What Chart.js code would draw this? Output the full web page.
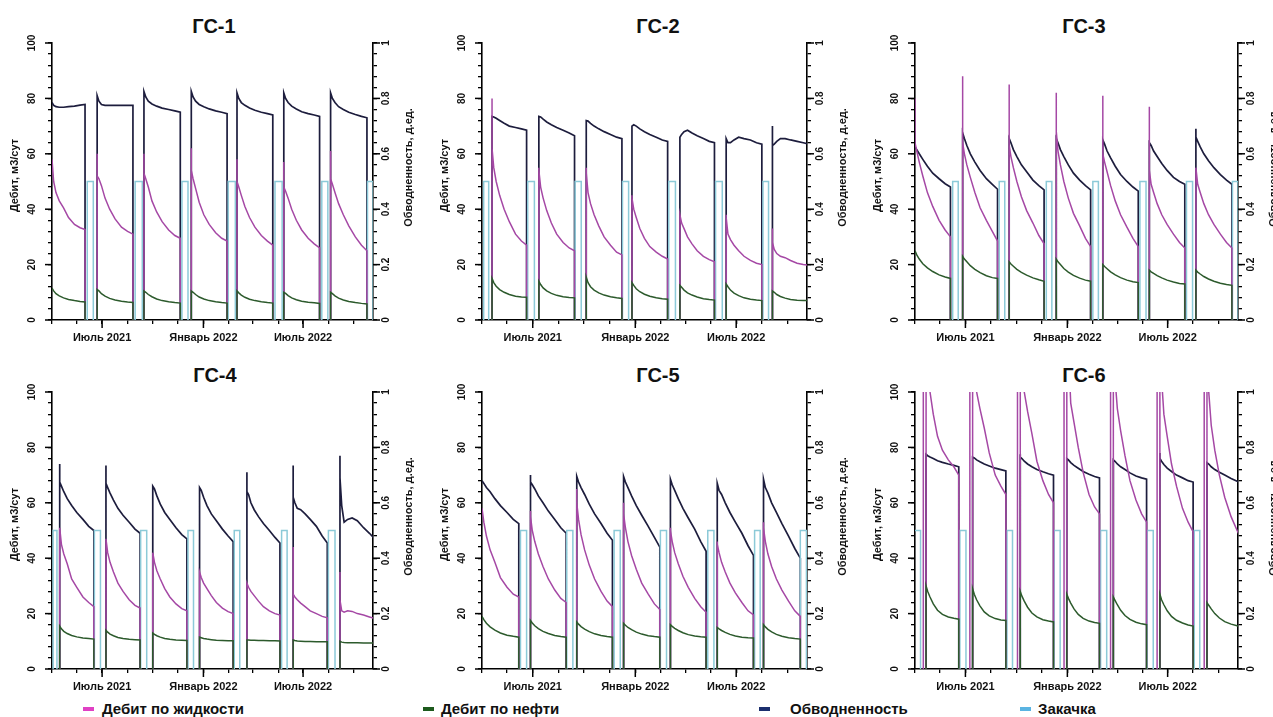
<!DOCTYPE html>
<html><head><meta charset="utf-8">
<script src="https://cdn.jsdelivr.net/npm/chart.js@4.4.1/dist/chart.umd.min.js"></script>
<style>
html,body{margin:0;padding:0;background:#fff}
body{width:1273px;height:717px;position:relative;overflow:hidden;font-family:'Liberation Sans',Arial,sans-serif;color:#111}
canvas{position:absolute}
.ttl{position:absolute;font-weight:bold;font-size:20px;line-height:20px;transform:translateX(-50%);white-space:nowrap}
.leg{position:absolute;top:700px;font-size:15px;line-height:17px;font-weight:bold;white-space:nowrap}
.mk{position:absolute;top:707px;width:11px;height:4px}
</style></head><body>

<div class="ttl" style="left:214px;top:16px">ГС-1</div>
<div class="ttl" style="left:658px;top:16px">ГС-2</div>
<div class="ttl" style="left:1084px;top:16px">ГС-3</div>
<div class="ttl" style="left:215px;top:365px">ГС-4</div>
<div class="ttl" style="left:658px;top:365px">ГС-5</div>
<div class="ttl" style="left:1084px;top:365px">ГС-6</div>

<canvas id="c1"></canvas><canvas id="c2"></canvas><canvas id="c3"></canvas>
<canvas id="c4"></canvas><canvas id="c5"></canvas><canvas id="c6"></canvas>

<div class="mk" style="left:83px;background:#e040c4"></div><div class="leg" style="left:102px">Дебит по жидкости</div>
<div class="mk" style="left:423px;background:#1d5a1d"></div><div class="leg" style="left:441px">Дебит по нефти</div>
<div class="mk" style="left:759px;background:#1b2f6e"></div><div class="leg" style="left:790px">Обводненность</div>
<div class="mk" style="left:1020px;background:#5ab4e2"></div><div class="leg" style="left:1038px">Закачка</div>

<script>
// ---------- axes / sampling ----------
const X_MIN = 90, X_MAX = 673;            // days since 01.01.2021
const xTickDays = [90, 135, 181, 227, 273, 319, 365, 410, 455, 501, 546, 592, 638];
const xMajorDays = [181, 365, 546];
const xMajorLabels = ['Июль 2021', 'Январь 2022', 'Июль 2022'];
const yLeftLabels = [0, 20, 40, 60, 80, 100];
const yRightLabels = [0, 0.2, 0.4, 0.6, 0.8, 1];
const yRightText = ['0', '0.2', '0.4', '0.6', '0.8', '1'];
const samplePos = [0, 0.05, 0.12, 0.22, 0.35, 0.5, 0.68, 0.85, 1];

// ---------- ГС-1 ----------
const gs1Start = [90, 172, 257, 343, 426, 511, 596];
const gs1End = [150, 237, 323, 408, 491, 576, 662];
const gs1InjStart = [154, 241, 326, 410, 495, 580, 663];
const gs1InjEnd = [165, 254, 337, 423, 508, 591, 673];
const gs1LiqSpike = [null, 60, 60, 62, 58, 57, 61];
const gs1Liq = [
  [58, 50, 46, 43, 40.5, 37, 34.5, 33.3, 32.7],
  [52, 51, 48.5, 44, 40, 36.5, 33.5, 32, 31],
  [53, 51, 48, 43, 39, 35.5, 32.5, 30.5, 29.5],
  [54, 51, 47.5, 42.5, 38, 34.5, 31.5, 29.5, 28.5],
  [50, 48, 45, 41, 37, 33.5, 30.5, 28.5, 27],
  [48, 46.5, 44, 40, 36, 32.5, 29.5, 27.5, 26],
  [51, 49, 46, 42, 38, 34, 30, 27, 25]
];
const gs1Oil = [
  [11.5, 10.5, 9.5, 8.7, 8, 7.4, 7, 6.7, 6.5],
  [11, 10.5, 9.5, 8.6, 7.8, 7.2, 6.8, 6.5, 6.3],
  [10.5, 10, 9.2, 8.4, 7.6, 7, 6.6, 6.3, 6.1],
  [10.5, 10, 9.2, 8.3, 7.6, 7, 6.6, 6.3, 6.1],
  [10.5, 9.8, 9, 8.2, 7.5, 7, 6.6, 6.3, 6.1],
  [10, 9.6, 8.8, 8, 7.3, 6.8, 6.4, 6.2, 6],
  [10, 9.5, 8.7, 7.9, 7.2, 6.7, 6.3, 6, 5.8]
];
const gs1WcSpike = [null, null, null, null, null, null, null];
const gs1Wc = [
  [0.785, 0.775, 0.77, 0.768, 0.768, 0.77, 0.772, 0.776, 0.778],
  [0.81, 0.79, 0.778, 0.775, 0.775, 0.775, 0.775, 0.775, 0.775],
  [0.825, 0.805, 0.79, 0.78, 0.772, 0.765, 0.76, 0.755, 0.75],
  [0.825, 0.805, 0.79, 0.778, 0.77, 0.762, 0.755, 0.75, 0.745],
  [0.82, 0.80, 0.785, 0.775, 0.765, 0.757, 0.75, 0.745, 0.74],
  [0.82, 0.80, 0.785, 0.772, 0.762, 0.752, 0.745, 0.74, 0.735],
  [0.82, 0.80, 0.785, 0.77, 0.76, 0.75, 0.742, 0.735, 0.73]
];

// ---------- ГС-2 ----------
const gs2Start = [108, 192, 277, 359, 445, 528, 611];
const gs2End = [170, 256, 341, 423, 507, 592, 676];
const gs2InjStart = [93, 172, 257, 342, 425, 509, 594];
const gs2InjEnd = [102, 184, 268, 353, 437, 521, 604];
const gs2LiqSpike = [80, 55, 55, 45, 38, 38, 33];
const gs2Liq = [
  [62, 55, 50, 45, 40, 35.5, 31, 28.5, 27],
  [54, 48, 44, 39.5, 35, 31, 28, 26, 25],
  [53, 46, 42, 38, 34, 30, 27, 24.5, 23.5],
  [44, 40, 37, 33, 29.5, 26.5, 24.5, 23, 22],
  [38, 35, 33, 30, 27.5, 25, 23, 21.8, 21],
  [37, 31, 29, 27, 25, 23, 21.5, 20.5, 20],
  [28, 25.5, 24, 23, 22.5, 21.5, 20.5, 20, 19.8]
];
const gs2Oil = [
  [15, 13.5, 12.2, 11, 10, 9.2, 8.6, 8.3, 8.2],
  [14, 12.8, 11.6, 10.5, 9.6, 8.9, 8.4, 8.1, 8],
  [15.5, 13.5, 12, 10.8, 9.8, 9, 8.4, 8, 7.8],
  [13.5, 12.5, 11.3, 10.2, 9.3, 8.6, 8, 7.7, 7.5],
  [12.5, 11.8, 10.8, 9.8, 9, 8.3, 7.7, 7.4, 7.2],
  [13, 12, 10.8, 9.7, 8.8, 8, 7.5, 7.2, 7],
  [10.5, 10, 9.2, 8.5, 7.9, 7.4, 7.1, 7, 7]
];
const gs2WcSpike = [null, null, null, null, null, null, 0.70];
const gs2Wc = [
  [0.735, 0.733, 0.728, 0.72, 0.71, 0.70, 0.695, 0.69, 0.685],
  [0.735, 0.733, 0.725, 0.715, 0.705, 0.695, 0.685, 0.675, 0.665],
  [0.72, 0.718, 0.71, 0.70, 0.69, 0.68, 0.67, 0.66, 0.655],
  [0.70, 0.705, 0.70, 0.69, 0.68, 0.67, 0.66, 0.65, 0.645],
  [0.66, 0.67, 0.68, 0.685, 0.675, 0.665, 0.655, 0.645, 0.64],
  [0.655, 0.64, 0.64, 0.65, 0.66, 0.655, 0.65, 0.64, 0.635],
  [0.63, 0.635, 0.645, 0.655, 0.655, 0.65, 0.645, 0.64, 0.635]
];

// ---------- ГС-3 ----------
const gs3Start = [90, 176, 260, 345, 429, 513, 597];
const gs3End = [154, 239, 323, 407, 493, 577, 662];
const gs3InjStart = [158, 242, 327, 411, 496, 580, 663];
const gs3InjEnd = [168, 252, 337, 421, 507, 591, 673];
const gs3LiqSpike = [80, 88, 85, 82, 81, 77, null];
const gs3Liq = [
  [64, 61, 57, 52, 46, 41, 36, 32.5, 30],
  [64, 60, 56, 51.5, 46, 40.5, 36, 32, 28.5],
  [63, 59, 55, 50, 44.5, 39.5, 35, 30.5, 27.5],
  [68, 61, 56, 50, 44, 38.5, 34, 29.5, 26.5],
  [60, 57, 53.5, 48.5, 43, 38, 33.5, 29.5, 26.5],
  [54, 49, 46, 42, 38, 34.5, 31, 28, 26],
  [55, 49, 46, 42, 38, 34.5, 31, 28, 26]
];
const gs3Oil = [
  [25, 23.5, 22, 20.3, 18.8, 17.5, 16.3, 15.5, 15],
  [23, 22, 21, 19.6, 18.3, 17.1, 16, 15.3, 15],
  [21, 20.2, 19.4, 18.3, 17.2, 16.2, 15.2, 14.5, 14],
  [22, 21, 20, 18.6, 17.3, 16.1, 15.1, 14.4, 14],
  [20, 19.3, 18.5, 17.4, 16.3, 15.3, 14.4, 13.8, 13.5],
  [18, 17.4, 16.8, 16, 15.2, 14.4, 13.7, 13.2, 13],
  [18, 17.3, 16.6, 15.7, 14.8, 14, 13.3, 12.8, 12.5]
];
const gs3WcSpike = [null, null, null, null, null, null, 0.69];
const gs3Wc = [
  [0.625, 0.615, 0.60, 0.58, 0.555, 0.53, 0.51, 0.492, 0.48],
  [0.675, 0.655, 0.63, 0.60, 0.57, 0.54, 0.51, 0.49, 0.472],
  [0.655, 0.64, 0.615, 0.59, 0.56, 0.535, 0.505, 0.485, 0.47],
  [0.655, 0.64, 0.615, 0.59, 0.56, 0.53, 0.505, 0.485, 0.47],
  [0.65, 0.635, 0.61, 0.585, 0.555, 0.525, 0.5, 0.48, 0.465],
  [0.64, 0.63, 0.61, 0.59, 0.565, 0.54, 0.515, 0.5, 0.49],
  [0.66, 0.645, 0.625, 0.6, 0.575, 0.55, 0.525, 0.505, 0.49]
];

// ---------- ГС-4 ----------
const gs4Start = [104, 188, 273, 358, 444, 528, 613];
const gs4End = [166, 250, 335, 419, 504, 590, 676];
const gs4InjStart = [92, 167, 251, 337, 421, 507, 592];
const gs4InjEnd = [99, 178, 262, 347, 431, 517, 604];
const gs4LiqSpike = [null, null, null, null, null, 44, 35];
const gs4Liq = [
  [51, 45, 41.5, 38, 32.5, 29.5, 26, 24, 22.5],
  [47, 42, 38.5, 35, 31, 28, 25, 23, 22],
  [42, 38.5, 35.5, 32.5, 29, 26, 23.5, 21.8, 21],
  [35, 33, 31, 29, 26.5, 24, 22, 20.7, 20],
  [31, 29.5, 28, 26.5, 24.5, 22.5, 21, 20, 19.5],
  [27, 26, 25, 23.8, 22.5, 21, 20, 19, 18.5],
  [25, 21, 20.5, 21, 20.8, 20, 19.5, 18.8, 18.2]
];
const gs4Oil = [
  [15.5, 14.5, 13.6, 12.8, 12.1, 11.6, 11.2, 11, 10.8],
  [14, 13.3, 12.6, 12, 11.4, 11, 10.7, 10.6, 10.5],
  [13, 12.5, 12, 11.5, 11, 10.7, 10.5, 10.4, 10.3],
  [11.5, 11.3, 11, 10.8, 10.6, 10.4, 10.3, 10.2, 10.2],
  [10.5, 10.5, 10.4, 10.4, 10.3, 10.3, 10.2, 10.2, 10.1],
  [10.5, 10.3, 10.1, 10, 9.9, 9.9, 9.8, 9.8, 9.8],
  [10, 9.7, 9.6, 9.5, 9.5, 9.5, 9.4, 9.4, 9.4]
];
const gs4WcSpike = [0.74, 0.735, null, null, 0.71, 0.735, 0.77];
const gs4Wc = [
  [0.675, 0.66, 0.64, 0.615, 0.59, 0.565, 0.54, 0.515, 0.50],
  [0.67, 0.655, 0.635, 0.61, 0.58, 0.555, 0.53, 0.505, 0.49],
  [0.66, 0.65, 0.625, 0.595, 0.565, 0.54, 0.51, 0.485, 0.47],
  [0.655, 0.645, 0.62, 0.59, 0.56, 0.535, 0.505, 0.48, 0.46],
  [0.64, 0.63, 0.60, 0.575, 0.55, 0.525, 0.50, 0.475, 0.455],
  [0.62, 0.60, 0.58, 0.575, 0.56, 0.54, 0.515, 0.48, 0.455],
  [0.69, 0.59, 0.53, 0.54, 0.545, 0.535, 0.51, 0.49, 0.47]
];

// ---------- ГС-5 ----------
const gs5Start = [90, 177, 260, 344, 428, 512, 595];
const gs5End = [156, 241, 324, 409, 492, 577, 661];
const gs5InjStart = [159, 242, 327, 410, 495, 579, 661];
const gs5InjEnd = [170, 253, 338, 421, 506, 589, 672];
const gs5LiqSpike = [null, 57, 65, 60, 51, 46, 53];
const gs5Liq = [
  [58, 53, 48, 43, 38.5, 33, 29.5, 27, 26],
  [55, 50, 46, 41.5, 37, 32.5, 28.5, 25.5, 24],
  [60, 54, 48.5, 43, 37.5, 32.5, 28, 24.5, 22.5],
  [56, 51, 46, 41, 36, 31, 27, 23.5, 21.5],
  [50, 46, 42, 38, 33.5, 29.5, 25.5, 22.5, 20.5],
  [45, 42, 38.5, 35, 31, 27.5, 24, 21, 19.5],
  [51, 46, 41.5, 37, 32.5, 28.5, 24.5, 21, 19]
];
const gs5Oil = [
  [19, 17.8, 16.5, 15.2, 14, 13, 12.2, 11.8, 11.5],
  [17.5, 16.6, 15.6, 14.6, 13.6, 12.8, 12.1, 11.7, 11.5],
  [17, 16.2, 15.3, 14.4, 13.5, 12.7, 12.1, 11.7, 11.5],
  [16.5, 15.8, 15, 14.2, 13.3, 12.6, 12, 11.7, 11.5],
  [16, 15.4, 14.7, 13.9, 13.1, 12.4, 11.9, 11.6, 11.5],
  [15, 14.5, 13.9, 13.2, 12.5, 11.9, 11.5, 11.3, 11.2],
  [16, 15.2, 14.3, 13.4, 12.5, 11.8, 11.3, 11, 10.8]
];
const gs5WcSpike = [null, 0.70, null, null, null, null, null];
const gs5Wc = [
  [0.68, 0.67, 0.655, 0.64, 0.615, 0.59, 0.565, 0.54, 0.525],
  [0.675, 0.665, 0.65, 0.625, 0.60, 0.57, 0.54, 0.51, 0.49],
  [0.695, 0.675, 0.655, 0.63, 0.595, 0.56, 0.525, 0.49, 0.465],
  [0.695, 0.675, 0.655, 0.625, 0.59, 0.555, 0.515, 0.475, 0.44],
  [0.685, 0.665, 0.645, 0.615, 0.58, 0.545, 0.505, 0.46, 0.425],
  [0.67, 0.645, 0.63, 0.60, 0.565, 0.53, 0.49, 0.445, 0.41],
  [0.685, 0.655, 0.635, 0.60, 0.565, 0.525, 0.48, 0.435, 0.40]
];

// ---------- ГС-6 ----------
const gs6Pre = [105, 189, 275, 359, 443, 527, 612];
const gs6PrePeak = [150, 150, 150, 150, 150, 150, 150];
const gs6Start = [110, 194, 280, 364, 448, 532, 617];
const gs6End = [169, 254, 340, 423, 508, 592, 681];
const gs6InjStart = [90, 171, 256, 341, 425, 509, 594];
const gs6InjEnd = [100, 182, 266, 352, 436, 520, 604];
const gs6LiqSpike = [null, null, null, null, null, null, null];
const gs6Liq = [
  [140, 118, 100, 92, 84, 79, 75.5, 73, 70],
  [140, 118, 100, 94, 87, 78, 70, 66, 63],
  [140, 118, 100, 93, 85, 75, 68, 63, 60],
  [140, 115, 96, 89, 80, 71, 63, 58.5, 56],
  [130, 105, 94, 86, 77, 68, 61, 56, 53],
  [130, 105, 92, 84, 74, 66, 58, 53, 49.5],
  [125, 100, 88, 79, 70, 62, 55, 50, 46]
];
const gs6Oil = [
  [30, 28, 26, 23.5, 21.2, 19.7, 18.8, 18.3, 18],
  [29, 27, 25, 22.8, 20.6, 19.2, 18.2, 17.7, 17.5],
  [28, 26.3, 24.5, 22.3, 20.2, 18.8, 17.8, 17.3, 17],
  [27, 25.5, 23.8, 21.7, 19.7, 18.3, 17.3, 16.8, 16.5],
  [26, 24.8, 23.2, 21.2, 19.3, 17.9, 16.9, 16.3, 16],
  [27, 25, 23.2, 21, 19, 17.6, 16.6, 15.9, 15.5],
  [24, 23, 21.7, 20, 18.4, 17.1, 16.2, 15.6, 15.2]
];
const gs6WcSpike = [null, null, 0.775, null, null, 0.78, null];
const gs6Wc = [
  [0.775, 0.77, 0.765, 0.76, 0.752, 0.746, 0.74, 0.735, 0.73],
  [0.765, 0.762, 0.755, 0.748, 0.74, 0.733, 0.725, 0.72, 0.715],
  [0.765, 0.76, 0.75, 0.74, 0.73, 0.72, 0.712, 0.705, 0.70],
  [0.76, 0.755, 0.745, 0.735, 0.725, 0.713, 0.703, 0.695, 0.69],
  [0.755, 0.75, 0.74, 0.73, 0.72, 0.708, 0.697, 0.69, 0.685],
  [0.76, 0.75, 0.738, 0.725, 0.713, 0.70, 0.69, 0.68, 0.675],
  [0.745, 0.74, 0.73, 0.72, 0.71, 0.70, 0.688, 0.678, 0.668]
];

// ---------- assembling ----------
const wells = [
  {id:'c1', start:gs1Start, end:gs1End, injS:gs1InjStart, injE:gs1InjEnd, liq:gs1Liq, liqSp:gs1LiqSpike, oil:gs1Oil, wc:gs1Wc, wcSp:gs1WcSpike},
  {id:'c2', start:gs2Start, end:gs2End, injS:gs2InjStart, injE:gs2InjEnd, liq:gs2Liq, liqSp:gs2LiqSpike, oil:gs2Oil, wc:gs2Wc, wcSp:gs2WcSpike},
  {id:'c3', start:gs3Start, end:gs3End, injS:gs3InjStart, injE:gs3InjEnd, liq:gs3Liq, liqSp:gs3LiqSpike, oil:gs3Oil, wc:gs3Wc, wcSp:gs3WcSpike},
  {id:'c4', start:gs4Start, end:gs4End, injS:gs4InjStart, injE:gs4InjEnd, liq:gs4Liq, liqSp:gs4LiqSpike, oil:gs4Oil, wc:gs4Wc, wcSp:gs4WcSpike},
  {id:'c5', start:gs5Start, end:gs5End, injS:gs5InjStart, injE:gs5InjEnd, liq:gs5Liq, liqSp:gs5LiqSpike, oil:gs5Oil, wc:gs5Wc, wcSp:gs5WcSpike},
  {id:'c6', start:gs6Start, end:gs6End, injS:gs6InjStart, injE:gs6InjEnd, liq:gs6Liq, liqSp:gs6LiqSpike, oil:gs6Oil, wc:gs6Wc, wcSp:gs6WcSpike, pre:gs6Pre, prePeak:gs6PrePeak}
];
// canvas boxes: [left, top, width, height, leftAxisW, rightAxisW, padTop, xAxisH]
const boxes = [
  [0, 30, 430, 320, 52, 57, 13, 30],
  [430, 30, 433, 320, 52, 56, 13, 30],
  [863, 30, 410, 320, 52, 35, 13, 30],
  [0, 380, 430, 318, 52, 57, 12, 29],
  [430, 380, 433, 318, 52, 56, 12, 29],
  [863, 380, 410, 318, 52, 35, 12, 29]
];

function cycleSeries(w, vals, spikes, usePre) {
  const pts = [];
  for (let c = 0; c < w.start.length; c++) {
    const s = w.start[c], e = w.end[c];
    if (usePre && w.pre) {
      const p = w.pre[c], pk = w.prePeak[c];
      pts.push({x:p, y:0}, {x:p, y:pk}, {x:s, y:pk}, {x:s, y:0});
    } else if (s > X_MIN) {
      pts.push({x:s, y:0});
    }
    if (spikes[c] != null) pts.push({x:s, y:spikes[c]});
    vals[c].forEach((v, i) => pts.push({x: s + samplePos[i] * (e - s), y: v}));
    pts.push({x:e, y:0}, {x:e, y:null});
  }
  return pts;
}
function injSeries(w) {
  const pts = [];
  for (let i = 0; i < w.injS.length; i++) {
    const s = w.injS[i], e = w.injE[i];
    if (s > X_MIN) pts.push({x:s, y:0});
    pts.push({x:s, y:50}, {x:e, y:50}, {x:e, y:0}, {x:e, y:null});
  }
  return pts;
}

const FONT = "'Liberation Sans', Arial, sans-serif";
const axisDeco = {
  id: 'axisDeco',
  afterDraw(chart) {
    const ctx = chart.ctx, ca = chart.chartArea;
    const yl = chart.scales.y, yr = chart.scales.y1, xs = chart.scales.x;
    ctx.save();
    ctx.strokeStyle = '#000'; ctx.fillStyle = '#111'; ctx.lineWidth = 1.5;
    ctx.textAlign = 'center'; ctx.textBaseline = 'middle';
    ctx.font = 'bold 10px ' + FONT;
    yLeftLabels.forEach(v => {
      const py = yl.getPixelForValue(v);
      ctx.beginPath(); ctx.moveTo(ca.left, py); ctx.lineTo(ca.left - 7, py); ctx.stroke();
      ctx.save(); ctx.translate(ca.left - 20, py); ctx.rotate(-Math.PI / 2);
      ctx.fillText(String(v), 0, 0); ctx.restore();
    });
    yRightLabels.forEach((v, i) => {
      const py = yr.getPixelForValue(v);
      ctx.beginPath(); ctx.moveTo(ca.right, py); ctx.lineTo(ca.right + 7, py); ctx.stroke();
      ctx.save(); ctx.translate(ca.right + 13, py); ctx.rotate(-Math.PI / 2);
      ctx.fillText(yRightText[i], 0, 0); ctx.restore();
    });
    xMajorDays.forEach(v => {
      const px = xs.getPixelForValue(v);
      ctx.beginPath(); ctx.moveTo(px, ca.bottom); ctx.lineTo(px, ca.bottom + 8); ctx.stroke();
    });
    const midY = (ca.top + ca.bottom) / 2;
    ctx.font = 'bold 11px ' + FONT;
    ctx.save(); ctx.translate(ca.left - 37, midY - 6); ctx.rotate(-Math.PI / 2);
    ctx.fillText('Дебит, м3/сут', 0, 0); ctx.restore();
    ctx.save(); ctx.translate(ca.right + 36, midY - 14); ctx.rotate(-Math.PI / 2);
    ctx.fillText('Обводненность, д.ед.', 0, 0); ctx.restore();
    ctx.restore();
  }
};

const COL = {liq:'#a548a5', oil:'#2c5a2c', wc:'#1d1d3d', inj:'#8ccad8'};
const yLeftTicks = []; for (let v = 0; v <= 100; v += 4) yLeftTicks.push(v);
const yRightTicks = yLeftTicks.map(v => v / 100);

wells.forEach((w, k) => {
  const b = boxes[k];
  const cv = document.getElementById(w.id);
  cv.width = b[2]; cv.height = b[3];
  cv.style.left = b[0] + 'px'; cv.style.top = b[1] + 'px';
  cv.style.width = b[2] + 'px'; cv.style.height = b[3] + 'px';
  const gridOpt = {drawOnChartArea:false, color:'#000', tickLength:4, lineWidth:1.3};
  const borderOpt = {display:true, color:'#000', width:1.6};
  new Chart(cv, {
    type: 'line',
    data: {datasets: [
      {label:'Дебит по нефти', data: cycleSeries(w, w.oil, [], false), borderColor: COL.oil, borderWidth:1.5, yAxisID:'y', order:0},
      {label:'Дебит по жидкости', data: cycleSeries(w, w.liq, w.liqSp, true), borderColor: COL.liq, borderWidth:1.5, yAxisID:'y', order:1},
      {label:'Закачка', data: injSeries(w), borderColor: COL.inj, borderWidth:1.5, yAxisID:'y', order:2},
      {label:'Обводненность', data: cycleSeries(w, w.wc, w.wcSp, false), borderColor: COL.wc, borderWidth:1.7, yAxisID:'y1', order:3}
    ]},
    options: {
      animation:false, responsive:false, devicePixelRatio:1,
      spanGaps:false,
      elements:{point:{radius:0, hoverRadius:0}, line:{tension:0, fill:false}},
      layout:{padding:{top:b[6], left:0, right:0, bottom:0}},
      plugins:{legend:{display:false}, tooltip:{enabled:false}, title:{display:false}},
      events: [],
      scales: {
        x: {type:'linear', min:X_MIN, max:X_MAX,
            afterBuildTicks(s){ s.ticks = xTickDays.map(v => ({value:v})); },
            afterFit(s){ s.height = b[7]; },
            grid: gridOpt, border: borderOpt,
            ticks: {autoSkip:false, maxRotation:0, minRotation:0, padding:7, color:'#111',
                    font:{family:FONT, size:11, weight:'bold'},
                    callback(v){ const i = xMajorDays.indexOf(v); return i >= 0 ? xMajorLabels[i] : ''; }}},
        y: {type:'linear', position:'left', min:0, max:100,
            afterBuildTicks(s){ s.ticks = yLeftTicks.map(v => ({value:v})); },
            afterFit(s){ s.width = b[4]; },
            grid: gridOpt, border: borderOpt, ticks:{display:false}},
        y1: {type:'linear', position:'right', min:0, max:1,
            afterBuildTicks(s){ s.ticks = yRightTicks.map(v => ({value:v})); },
            afterFit(s){ s.width = b[5]; },
            grid: gridOpt, border: borderOpt, ticks:{display:false}}
      }
    },
    plugins: [axisDeco]
  });
});
</script>
</body></html>
